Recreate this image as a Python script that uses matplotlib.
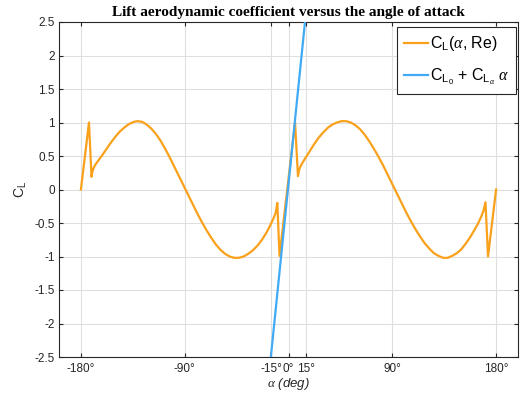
import matplotlib
matplotlib.use("Agg")
import matplotlib.pyplot as plt

# ---- data ----
alpha_deg = [-180, -173, -170.8, -170, -169, -167.5, -165, -162, -158, -154, -150,
             -146, -142, -138, -134, -131, -127, -123, -119, -115, -111, -107,
             -103, -99, -95, -91, -87, -83, -79, -75, -71, -67, -63, -59, -55,
             -51, -47, -43, -39, -35, -31, -27, -23, -19, -16, -13, -11, -9.7, -7.8,
             5.7, 8.2, 9, 10.5, 12.5, 15, 18, 22, 26, 30, 34, 38, 42, 46, 50,
             54, 58, 62, 66, 70, 74, 78, 82, 86, 90, 94, 98, 102, 106, 110,
             114, 118, 122, 126, 130, 134, 138, 142, 146, 150, 154, 158, 161,
             164, 167, 169, 170.8, 173, 180]
cl_values = [0.0, 1.0, 0.19, 0.27, 0.32, 0.37, 0.43, 0.50, 0.60, 0.70, 0.79,
             0.87, 0.93, 0.98, 1.01, 1.02, 1.01, 0.97, 0.91, 0.83, 0.73, 0.61,
             0.48, 0.34, 0.20, 0.06, -0.08, -0.22, -0.36, -0.49, -0.61, -0.72, -0.82, -0.90, -0.96,
             -1.00, -1.02, -1.02, -1.00, -0.96, -0.91, -0.84, -0.75, -0.64, -0.54, -0.43, -0.34, -0.20, -0.99,
             1.0, 0.20, 0.28, 0.35, 0.41, 0.48, 0.56, 0.67, 0.77, 0.85, 0.92, 0.97, 1.00, 1.02, 1.02,
             1.00, 0.96, 0.90, 0.82, 0.72, 0.61, 0.49, 0.36, 0.22, 0.08, -0.06, -0.20, -0.34, -0.47, -0.59,
             -0.70, -0.80, -0.88, -0.95, -0.99, -1.02, -1.02, -0.99, -0.95, -0.89, -0.80, -0.70, -0.61,
             -0.52, -0.41, -0.32, -0.19, -1.00, 0.0]

lin_alpha = [-15.3, 14.3]
lin_cl = [-2.5, 2.5]

xticks = [-180, -90, -15, 0, 15, 90, 180]
xticklabels = ["-180°", "-90°", "-15°", "0°", "15°", "90°", "180°"]
yticks = [-2.5, -2, -1.5, -1, -0.5, 0, 0.5, 1, 1.5, 2, 2.5]
yticklabels = ["-2.5", "-2", "-1.5", "-1", "-0.5", "0", "0.5", "1", "1.5", "2", "2.5"]

plt.rcParams['font.family'] = ['Liberation Sans', 'DejaVu Sans']
plt.rcParams['mathtext.fontset'] = 'custom'
plt.rcParams['mathtext.rm'] = 'Liberation Sans'
plt.rcParams['mathtext.it'] = 'Liberation Serif:italic'
plt.rcParams['mathtext.bf'] = 'Liberation Sans:bold'
plt.rcParams['mathtext.sf'] = 'Liberation Sans:italic'

fig = plt.figure(figsize=(5.31, 3.98), dpi=100)
ax = fig.add_axes([59/531, 1-357/398, (518-59)/531, (357-22)/398])

orange = '#F9A11B'
blue = '#41AAF5'
ax.plot(alpha_deg, cl_values, color=orange, lw=1.6, label=r'C$_\mathrm{L}$($\alpha$, Re)', zorder=3)
ax.plot(lin_alpha, lin_cl, color=blue, lw=1.6,
        label=r'C$_{\mathrm{L}_\mathrm{0}}$ + C$_{\mathrm{L}_\alpha}$ $\alpha$', zorder=3)

ax.set_xlim(-199, 199)
ax.set_ylim(-2.5, 2.5)
ax.set_xticks(xticks)
ax.set_xticklabels(xticklabels)
ax.set_yticks(yticks)
ax.set_yticklabels(yticklabels)
ax.tick_params(direction='in', top=True, right=True, labelsize=8.5, colors='#262626',
               length=3, width=0.8, pad=4)
ax.tick_params(axis='y', pad=3)
ax.grid(True, color='#DFDFDF', lw=0.8)
ax.set_axisbelow(True)
for s in ax.spines.values():
    s.set_color('#262626')
    s.set_linewidth(0.8)

ax.set_title('Lift aerodynamic coefficient versus the angle of attack',
             fontfamily='Liberation Serif', fontweight='bold', fontsize=11, pad=4)
ax.set_xlabel(r'$\alpha$ $\mathsf{(deg)}$', fontsize=9.5, color='#262626', labelpad=1)
ax.set_ylabel(r'C$_\mathrm{L}$', fontsize=10, color='#262626', labelpad=4)

leg = ax.legend(loc='upper right', bbox_to_anchor=(516/531, 1-27/398),
                bbox_transform=fig.transFigure, borderaxespad=0,
                fontsize=11.5, frameon=True, fancybox=False,
                edgecolor='#262626', framealpha=1, handlelength=1.5, handletextpad=0.12,
                borderpad=0.45, labelspacing=0.85)
leg.get_frame().set_linewidth(0.8)

fig.savefig('out.png', dpi=100)
